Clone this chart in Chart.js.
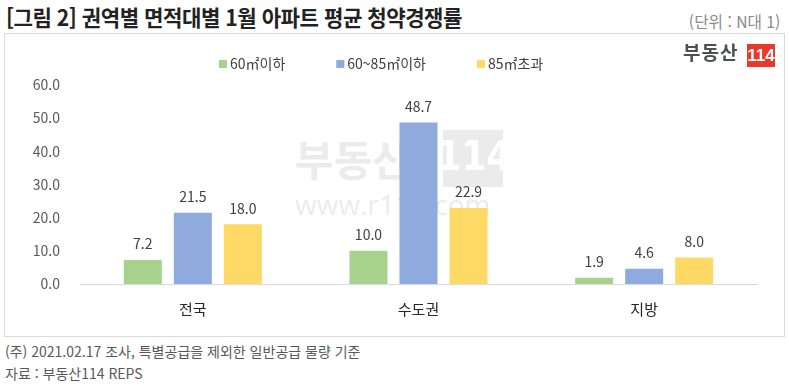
<!DOCTYPE html>
<html lang="ko">
<head>
<meta charset="utf-8">
<script src="https://cdn.jsdelivr.net/npm/chart.js@4.4.1/dist/chart.umd.min.js"></script>
<style>
  body { margin: 0; background: #fff; }
  #wrap { position: relative; width: 789px; height: 388px; overflow: hidden; font-family: "Noto Sans CJK KR", "Noto Sans", sans-serif; }
  #title { position: absolute; left: 6px; top: 0px; font-size: 22px; font-weight: bold; color: #222; white-space: nowrap; transform: scaleX(0.96); transform-origin: left top; letter-spacing: -0.5px; }
  #unit { position: absolute; right: 9px; top: 9px; font-size: 16px; color: #8a8a8a; white-space: nowrap; transform: scaleX(0.98); transform-origin: right top; }
  #box { position: absolute; left: 4px; top: 33px; width: 779px; height: 302px; border: 1px solid #d9d9d9; }
  #box canvas { display: block; }
  .note { position: absolute; left: 5px; font-size: 14px; color: #595959; white-space: nowrap; }
</style>
</head>
<body>
<div id="wrap">
  <div id="title">[그림 2] 권역별 면적대별 1월 아파트 평균 청약경쟁률</div>
  <div id="unit">(단위 : N대 1)</div>
  <div id="box"><canvas id="chart" width="779" height="302"></canvas></div>
  <div class="note" style="top:341px">(주) 2021.02.17 조사, 특별공급을 제외한 일반공급 물량 기준</div>
  <div class="note" style="top:363px">자료 : 부동산114 REPS</div>
</div>
<script>
// 권역
const regions = ["전국", "수도권", "지방"];
// 면적대별 평균 청약경쟁률
const under60 = [7.2, 10.0, 1.9];
const from60to85 = [21.5, 48.7, 4.6];
const over85 = [18.0, 22.9, 8.0];
const seriesNames = ["60㎡이하", "60~85㎡이하", "85㎡초과"];
const seriesColors = ["#A9D18E", "#8FAADC", "#FFD966"];
const yTicks = [0, 10, 20, 30, 40, 50, 60];

const fontKR = "'Noto Sans CJK KR', 'Noto Sans', sans-serif";

// 배경 워터마크 + 로고
const marcaDagua = {
  id: "marcaDagua",
  beforeDatasetsDraw(chart) {
    const ctx = chart.ctx;
    ctx.save();
    ctx.fillStyle = "#ebebeb";
    ctx.font = "bold 42px " + fontKR;
    ctx.textBaseline = "middle";
    ctx.fillText("부동산", 290, 126);
    ctx.fillRect(438, 96, 60, 57);
    ctx.fillStyle = "#fff";
    ctx.font = "bold 40px 'Liberation Sans Narrow', 'DejaVu Sans Condensed', sans-serif";
    ctx.textAlign = "center";
    ctx.fillText("114", 469, 126);
    ctx.fillStyle = "#ebebeb";
    ctx.font = "28px 'Open Sans', sans-serif";
    ctx.textAlign = "left";
    ctx.fillText("www.r114.com", 290, 173);
    ctx.restore();
  },
  afterDraw(chart) {
    const ctx = chart.ctx;
    ctx.save();
    // 로고
    ctx.fillStyle = "#4d4f53";
    ctx.font = "bold 19px " + fontKR;
    ctx.textBaseline = "middle";
    ctx.letterSpacing = "1px";
    ctx.fillText("부동산", 678, 19);
    ctx.letterSpacing = "0px";
    ctx.fillStyle = "#e8392b";
    ctx.fillRect(742, 10, 28, 23);
    ctx.fillStyle = "#fff";
    ctx.font = "bold 17px 'Liberation Sans Narrow', sans-serif";
    ctx.textAlign = "center";
    ctx.fillText("114", 756, 22);
    ctx.restore();
  }
};

// 범례
const legenda = {
  id: "legenda",
  afterDraw(chart) {
    const ctx = chart.ctx;
    ctx.save();
    ctx.font = "14px " + fontKR;
    ctx.textBaseline = "middle";
    let x = 214;
    const y = 30;
    chart.data.datasets.forEach((ds) => {
      ctx.fillStyle = ds.backgroundColor;
      ctx.fillRect(x, y - 4, 8, 8);
      ctx.fillStyle = "#404040";
      ctx.fillText(ds.label, x + 11, y);
      x += 11 + ctx.measureText(ds.label).width + 51;
    });
    ctx.restore();
  }
};

// 막대 위 값 표시
const rotulos = {
  id: "rotulos",
  afterDatasetsDraw(chart) {
    const ctx = chart.ctx;
    ctx.save();
    ctx.font = "14px " + fontKR;
    ctx.fillStyle = "#404040";
    ctx.textAlign = "center";
    ctx.textBaseline = "bottom";
    chart.data.datasets.forEach((ds, i) => {
      chart.getDatasetMeta(i).data.forEach((bar, j) => {
        ctx.fillText(ds.data[j].toFixed(1), bar.x, bar.y - 9);
      });
    });
    ctx.restore();
  }
};

new Chart(document.getElementById("chart"), {
  type: "bar",
  data: {
    labels: regions,
    datasets: [under60, from60to85, over85].map((d, i) => ({
      label: seriesNames[i],
      data: d,
      backgroundColor: seriesColors[i],
      categoryPercentage: 0.665,
      barPercentage: 0.76,
    })),
  },
  options: {
    responsive: false,
    animation: false,
    layout: { padding: { left: 5, right: 27, top: 51, bottom: 10 } },
    plugins: { legend: { display: false }, tooltip: { enabled: false } },
    scales: {
      x: {
        grid: { display: false },
        border: { color: "#d9d9d9", width: 1 },
        ticks: { font: { size: 15, family: fontKR }, color: "#262626", padding: 8 },
      },
      y: {
        min: 0,
        max: 60,
        afterBuildTicks: (axis) => { axis.ticks = yTicks.map((v) => ({ value: v })); },
        afterFit: (axis) => { axis.width = 70; },
        grid: { display: false },
        border: { display: false },
        ticks: {
          font: { size: 14, family: fontKR },
          color: "#595959",
          padding: 12,
          callback: (v) => Number(v).toFixed(1),
        },
      },
    },
  },
  plugins: [marcaDagua, legenda, rotulos],
});
</script>
</body>
</html>
